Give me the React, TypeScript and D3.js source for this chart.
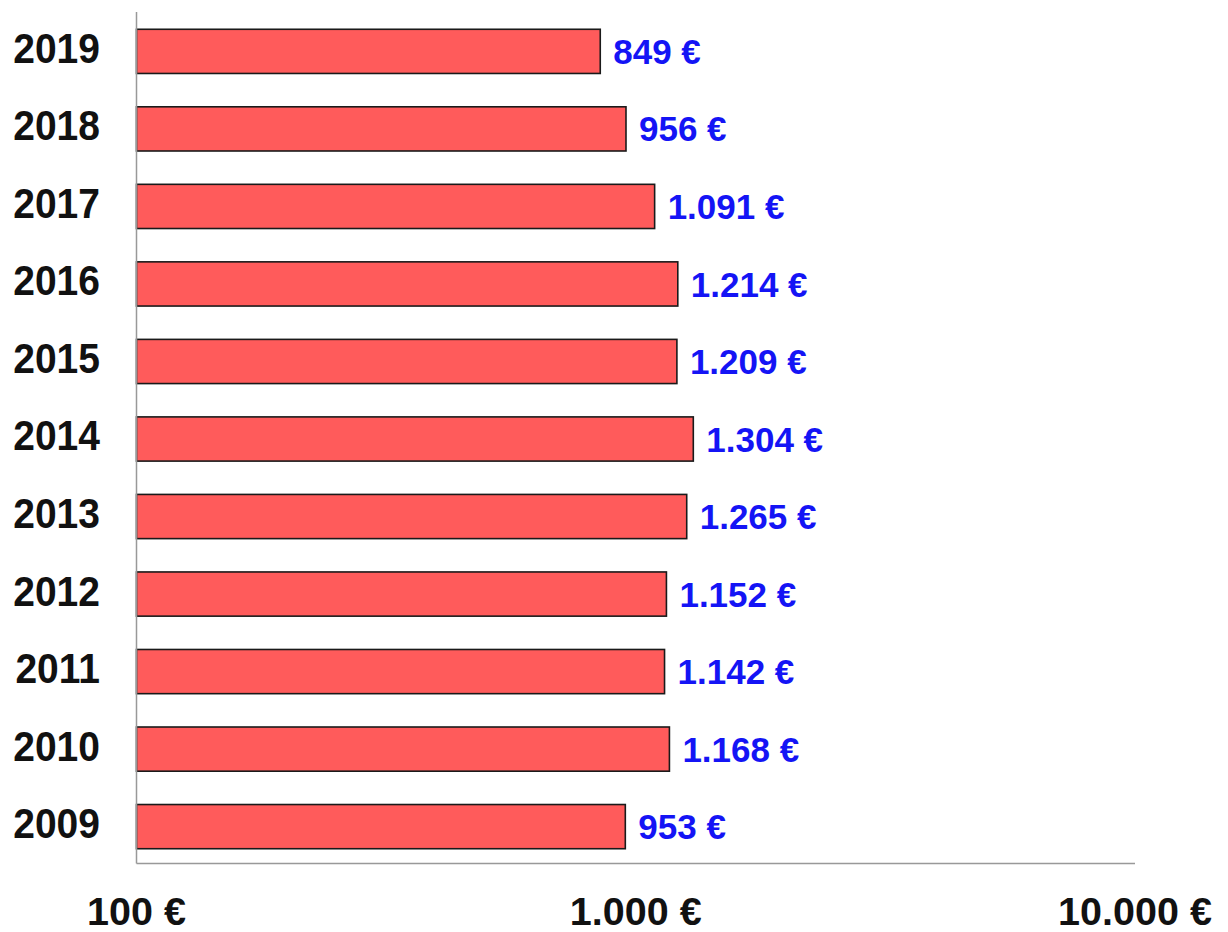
import React from "react";
import * as d3 from "d3";

const years = ["2019", "2018", "2017", "2016", "2015", "2014", "2013", "2012", "2011", "2010", "2009"];
const values = [849, 956, 1091, 1214, 1209, 1304, 1265, 1152, 1142, 1168, 953];
const tickValues = [100, 1000, 10000];

const fmt = (v: number) => d3.format(",")(v).replace(/,/g, ".") + " €";

export default function App() {
  const W = 1228, H = 932;
  const x = d3.scaleLog().domain([100, 10000]).range([136.5, 1135]);
  const y = d3.scaleBand<string>().domain(years).range([13, 865]).paddingInner(0.43).paddingOuter(0.21);
  const font = "'Liberation Sans', Arial, sans-serif";
  const axisY = 863.5;
  return (
    <svg width={W} height={H} style={{ position: "absolute", left: 0, top: 0, background: "#fff" }} fontFamily={font}>
      {years.map((yr, i) => {
        const y0 = y(yr)!;
        const bw = y.bandwidth();
        const xe = x(values[i]);
        const cy = y0 + bw / 2 - 4;
        return (
          <g key={yr}>
            <rect x={x(100)} y={y0} width={xe - x(100)} height={bw} fill="#FF5B5B" stroke="#1a1a1a" strokeWidth={1.6} />
            <text x={xe + 13} y={y0 + bw / 2} dy="0.36em" fill="#1414F5" fontSize={35} fontWeight="bold">{fmt(values[i])}</text>
            <g transform={`translate(100,${cy}) scale(1,1.1)`}>
              <text x={0} y={0} dy="0.36em" textAnchor="end" fill="#111" fontSize={39} fontWeight="bold">{yr}</text>
            </g>
          </g>
        );
      })}
      <line x1={136.5} x2={136.5} y1={12} y2={axisY} stroke="#999" strokeWidth={1.5} />
      <line x1={136.5} x2={1135} y1={axisY} y2={axisY} stroke="#999" strokeWidth={1.5} />
      {tickValues.map((t) => (
        <text key={t} x={x(t)} y={925} textAnchor="middle" fill="#111" fontSize={39.5} fontWeight="bold">{fmt(t)}</text>
      ))}
    </svg>
  );
}
